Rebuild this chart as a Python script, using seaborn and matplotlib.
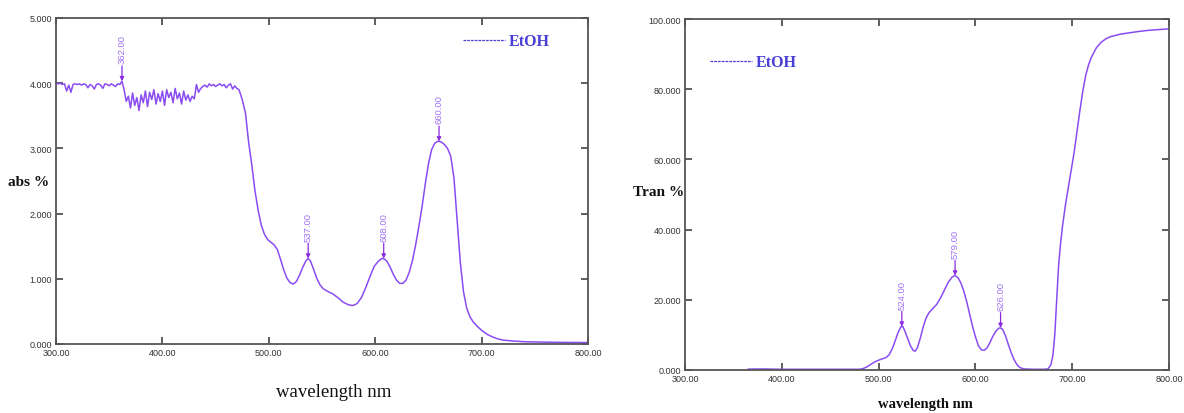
import numpy as np
import pandas as pd
import matplotlib
matplotlib.use("Agg")
import matplotlib.pyplot as plt
from matplotlib.lines import Line2D
from matplotlib.ticker import FormatStrFormatter
import seaborn as sns

# ---------------- data: absorbance (left) ----------------
abs_noisy_wl = list(range(300, 471, 2))
abs_noisy = [
    4.00, 3.99, 4.00, 3.98, 3.99, 3.88, 3.97, 3.86, 3.98, 3.99,
    3.98, 3.99, 3.97, 3.99, 3.98, 3.93, 3.98, 3.96, 3.91, 3.98,
    3.99, 3.97, 3.92, 3.99, 3.98, 3.96, 3.99, 3.97, 3.95, 3.99, 3.98,
    4.03,
    3.90, 3.72, 3.80, 3.62, 3.85, 3.66, 3.78, 3.58, 3.82, 3.70,
    3.88, 3.64, 3.86, 3.75, 3.90, 3.68, 3.84, 3.72, 3.88, 3.66,
    3.90, 3.78, 3.86, 3.70, 3.92, 3.76, 3.85, 3.68, 3.88, 3.74,
    3.82, 3.72, 3.80, 3.76,
    3.98, 3.86, 3.92, 3.95, 3.97, 3.94, 3.99, 3.96, 3.98, 3.95,
    3.97, 3.99, 3.96, 3.98, 3.93, 3.97, 3.99, 3.91, 3.96, 3.92,
]
abs_smooth_wl = [472, 475, 478, 481, 484, 487, 490, 493, 496, 499, 502, 505, 508, 511, 514, 517,
                 520, 523, 526, 529, 532, 535, 537, 539, 542, 545, 548, 551, 555, 560, 565, 570,
                 575, 579, 583, 587, 591, 595, 599, 603, 606, 608, 611, 614, 617, 620, 623, 626,
                 629, 632, 635, 638, 641, 644, 647, 650, 653, 656, 659, 662, 665, 668, 671, 674,
                 677, 680, 683, 686, 689, 692, 696, 700, 705, 710, 715, 720, 730, 740, 760, 780, 800]
abs_smooth = [3.90, 3.75, 3.55, 3.10, 2.75, 2.35, 2.05, 1.82, 1.68, 1.60, 1.56, 1.52, 1.45, 1.30, 1.14, 1.01,
              0.94, 0.92, 0.96, 1.06, 1.18, 1.28, 1.31, 1.28, 1.15, 1.01, 0.91, 0.85, 0.81, 0.77, 0.71, 0.64,
              0.60, 0.59, 0.62, 0.71, 0.86, 1.03, 1.19, 1.27, 1.31, 1.31, 1.27, 1.18, 1.07, 0.98, 0.93, 0.93,
              0.98, 1.10, 1.28, 1.52, 1.80, 2.10, 2.45, 2.76, 2.98, 3.08, 3.11, 3.10, 3.06, 3.00, 2.88, 2.55,
              1.90, 1.25, 0.80, 0.55, 0.42, 0.34, 0.27, 0.21, 0.15, 0.11, 0.08, 0.06, 0.045, 0.035, 0.028, 0.024, 0.022]
abs_peaks = [362, 537, 608, 660]
abs_peak_labels = ["362.00", "537.00", "608.00", "660.00"]

# ---------------- data: transmittance (right) ----------------
tr_wl = [365, 380, 400, 420, 440, 460, 480, 484, 488, 492, 496, 500, 504, 508, 511, 514, 517, 520,
         523, 525, 527, 530, 533, 536, 538, 540, 543, 546, 549, 552, 556, 560, 564, 568, 572, 576,
         579, 582, 585, 588, 591, 594, 597, 600, 603, 606, 609, 612, 615, 618, 621, 624, 626, 628,
         631, 634, 637, 640, 643, 646, 650, 660, 670, 675, 678, 680, 682, 684, 686, 688, 690, 693,
         696, 699, 702, 705, 708, 711, 714, 717, 720, 725, 730, 735, 740, 750, 760, 770, 780, 790, 800]
tr_val = [0.25, 0.3, 0.2, 0.2, 0.2, 0.2, 0.2, 0.4, 0.9, 1.6, 2.3, 2.8, 3.2, 3.6, 4.4, 6.0, 8.2, 10.6,
          12.3, 12.4, 11.2, 9.0, 6.8, 5.5, 5.4, 6.3, 9.0, 12.2, 14.8, 16.3, 17.5, 18.7, 20.5, 22.8, 25.0, 26.5,
          26.9, 26.3, 24.8, 22.5, 19.5, 16.0, 12.5, 9.5, 7.0, 5.8, 5.6, 6.3, 7.8, 9.6, 11.0, 11.9, 12.0, 11.6,
          9.8, 7.3, 4.9, 2.9, 1.5, 0.7, 0.3, 0.2, 0.2, 0.3, 1.5, 4.0, 10.0, 20.0, 30.0, 36.0, 41.0, 47.0,
          52.0, 57.0, 62.0, 68.0, 74.0, 79.5, 84.0, 87.0, 89.2, 91.8, 93.4, 94.4, 95.0, 95.7, 96.1, 96.5, 96.8, 97.0, 97.2]
tr_peaks = [524, 579, 626]
tr_peak_labels = ["524.00", "579.00", "626.00"]

x_ticks = [300, 400, 500, 600, 700, 800]
abs_yticks = [0, 1, 2, 3, 4, 5]
tr_yticks = [0, 20, 40, 60, 80, 100]
legend_label = "EtOH"

# ---------------- style ----------------
sns.set_style("white")
plt.rcParams["font.family"] = ["Liberation Sans", "DejaVu Sans"]

LINE = "#8a4cf2"
ANN = "#a070f5"
ARROW = "#8a2be2"
LEG = "#4a3fd6"
SPINE = "#555555"
SERIF = ["Liberation Serif", "DejaVu Serif"]

fig = plt.figure(figsize=(11.84, 4.14), dpi=100)
W, H = 1184, 414
axL = fig.add_axes([56 / W, 1 - 345 / H, (588 - 56) / W, (345 - 19) / H])
axR = fig.add_axes([685 / W, 1 - 371 / H, (1169 - 685) / W, (371 - 20) / H])

dfA = pd.DataFrame({"wl": abs_noisy_wl + abs_smooth_wl, "val": abs_noisy + abs_smooth})
dfT = pd.DataFrame({"wl": tr_wl, "val": tr_val})

sns.lineplot(data=dfA, x="wl", y="val", ax=axL, color=LINE, lw=1.1, estimator=None)
sns.lineplot(data=dfT, x="wl", y="val", ax=axR, color=LINE, lw=1.1, estimator=None)


def style(ax, yticks, ymax):
    ax.set_xlim(300, 800)
    ax.set_ylim(0, ymax)
    ax.set_xticks(x_ticks)
    ax.set_yticks(yticks)
    ax.xaxis.set_major_formatter(FormatStrFormatter("%.2f"))
    ax.yaxis.set_major_formatter(FormatStrFormatter("%.3f"))
    ax.set_xlabel("")
    ax.set_ylabel("")
    ax.tick_params(direction="in", length=5, width=1.1, color="#333333",
                   top=True, right=True, bottom=True, left=True,
                   labelsize=6.5, labelcolor="#333333", pad=3)
    for s in ax.spines.values():
        s.set_color(SPINE)
        s.set_linewidth(1.3)
        s.set_visible(True)


style(axL, abs_yticks, 5)
style(axR, tr_yticks, 100)


def annotate(ax, wl, vals, peaks, labels):
    for p, lab in zip(peaks, labels):
        yv = np.interp(p, wl, vals)
        ax.annotate("", xy=(p, yv), xytext=(0, 11), textcoords="offset points",
                    arrowprops=dict(arrowstyle="-|>", color=ARROW, lw=0.9,
                                    mutation_scale=6, shrinkA=0, shrinkB=0))
        ax.annotate(lab, xy=(p, yv), xytext=(0, 13), textcoords="offset points",
                    rotation=90, ha="center", va="bottom", fontsize=6.8, color=ANN)


annotate(axL, dfA["wl"].values, dfA["val"].values, abs_peaks, abs_peak_labels)
annotate(axR, dfT["wl"].values, dfT["val"].values, tr_peaks, tr_peak_labels)

handle = Line2D([], [], color=LEG, lw=0.9, ls=(0, (2.2, 0.8)))
for ax, anchor in [(axL, (0.765, 0.929)), (axR, (0.052, 0.877))]:
    leg = ax.legend(handles=[handle], labels=[legend_label], loc="center left",
                    bbox_to_anchor=anchor, frameon=False, handlelength=2.6,
                    handletextpad=0.25, borderpad=0, borderaxespad=0,
                    prop=dict(family=SERIF, weight="bold", size=11.5))
    for t in leg.get_texts():
        t.set_color(LEG)

fig.text(8 / W, 1 - 183 / H, "abs %", family=SERIF, weight="bold", size=11,
         ha="left", va="center", color="#111111")
fig.text(633 / W, 1 - 193 / H, "Tran %", family=SERIF, weight="bold", size=11,
         ha="left", va="center", color="#111111")
fig.text(334 / W, 1 - 393 / H, "wavelength nm", family=SERIF, size=13.5,
         ha="center", va="center", color="#111111")
fig.text(925 / W, 1 - 405 / H, "wavelength nm", family=SERIF, weight="bold", size=10.5,
         ha="center", va="center", color="#111111")

fig.savefig("out.png", dpi=100, facecolor="white")
